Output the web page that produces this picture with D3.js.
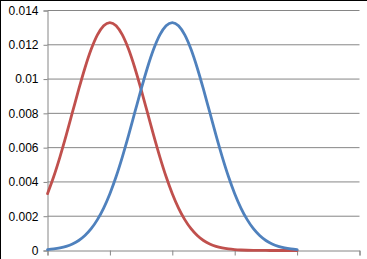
<!DOCTYPE html>
<html><head><meta charset="utf-8">
<script src="https://cdn.jsdelivr.net/npm/d3@7"></script>
<style>html,body{margin:0;padding:0;background:#fff;}svg{display:block;}</style>
</head><body>
<script>
const xValues = [0,5,10,15,20,25,30,35,40,45,50,55,60,65,70,75,80,85,90,95,100,105,110,115,120,125,130,135,140,145,150,155,160,165,170,175,180,185,190,195,200];
const redSeries = [0.003316,0.004317,0.005467,0.006733,0.008066,0.009397,0.010648,0.011736,0.012579,0.013115,0.013298,0.013115,0.012579,0.011736,0.010648,0.009397,0.008066,0.006733,0.005467,0.004317,0.003316,0.002477,0.001800,0.001272,0.000874,0.000584,0.000380,0.000240,0.000148,0.0000884,0.0000515,0.0000291,0.000016,0.0000086,0.0000045,0.0000022,0.000001,0.0000005,0.0000002,0.0000001,0.0000000];
const blueSeries = [0.0000515,0.0000884,0.000148,0.000240,0.000380,0.000584,0.000874,0.001272,0.001800,0.002477,0.003316,0.004317,0.005467,0.006733,0.008066,0.009397,0.010648,0.011736,0.012579,0.013115,0.013298,0.013115,0.012579,0.011736,0.010648,0.009397,0.008066,0.006733,0.005467,0.004317,0.003316,0.002477,0.001800,0.001272,0.000874,0.000584,0.000380,0.000240,0.000148,0.0000884,0.0000515];
const xTicks = [0,50,100,150,200,250];
const yTicks = [0,0.002,0.004,0.006,0.008,0.01,0.012,0.014];
const yTickLabels = ["0","0.002","0.004","0.006","0.008","0.01","0.012","0.014"];

const W = 367, H = 259;
const svg = d3.select("body").append("svg").attr("width", W).attr("height", H);
svg.append("rect").attr("width", W).attr("height", H).attr("fill", "#fff");
// frame edges (top & left)
svg.append("line").attr("x1",0).attr("x2",W).attr("y1",0.5).attr("y2",0.5).attr("stroke","#000");
svg.append("line").attr("x1",0.5).attr("x2",0.5).attr("y1",0).attr("y2",H).attr("stroke","#000");

const x = d3.scaleLinear().domain([0,250]).range([47.5,359.5]);
const y = d3.scaleLinear().domain([0,0.014]).range([250.5,10.5]);
const grid = "#868686";

// gridlines
svg.append("g").selectAll("line").data(yTicks.slice(1)).join("line")
  .attr("x1", x(0)).attr("x2", x(250))
  .attr("y1", d => y(d)).attr("y2", d => y(d))
  .attr("stroke", grid).attr("stroke-width", 1);

// y axis
const yAxis = d3.axisLeft(y).tickValues(yTicks).tickSize(4).tickPadding(5)
  .tickFormat((d,i) => yTickLabels[i]);
const gy = svg.append("g").attr("transform", `translate(${x(0)},0)`).call(yAxis);
gy.select(".domain").attr("stroke", grid);
gy.selectAll(".tick line").attr("stroke", grid);
gy.selectAll("text").attr("font-family","'Liberation Sans', Arial, sans-serif").attr("font-size","12px").attr("fill","#000");

// x axis
const xAxis = d3.axisBottom(x).tickValues(xTicks).tickSize(5).tickFormat("");
const gx = svg.append("g").attr("transform", `translate(0,${y(0)})`).call(xAxis);
gx.select(".domain").attr("stroke", grid);
gx.selectAll(".tick line").attr("stroke", grid);

const line = d3.line().x((d,i) => x(xValues[i])).y(d => y(d)).curve(d3.curveMonotoneX);
svg.append("path").datum(redSeries).attr("d", line).attr("fill","none")
  .attr("stroke","#C0504D").attr("stroke-width",2.8).attr("stroke-linejoin","round").attr("stroke-linecap","round");
svg.append("path").datum(blueSeries).attr("d", line).attr("fill","none")
  .attr("stroke","#4F81BD").attr("stroke-width",2.8).attr("stroke-linejoin","round").attr("stroke-linecap","round");
</script>
</body></html>
